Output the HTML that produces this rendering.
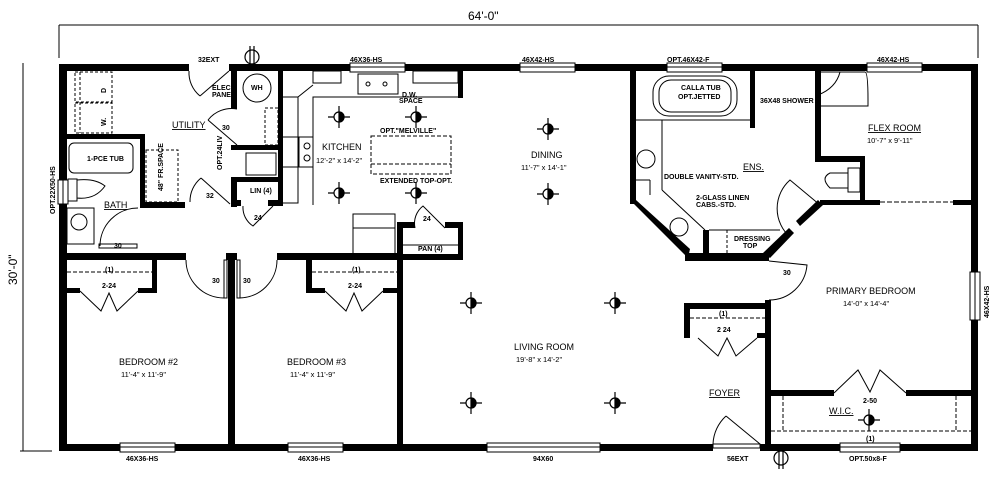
<!DOCTYPE html>
<html><head><meta charset="utf-8"><style>
html,body{margin:0;padding:0;background:#fff;}
svg{display:block;}
text{font-family:"Liberation Sans",sans-serif;fill:#000;}
.s{font-size:7px;font-family:"Liberation Sans Narrow","Liberation Sans",sans-serif;font-weight:bold;}
.l{font-size:9px;}
.d{font-size:7.5px;}
</style></head><body>
<svg width="1001" height="478" viewBox="0 0 1001 478" xmlns="http://www.w3.org/2000/svg">
<defs>
<g id="f" stroke="#000" stroke-width="1.2" fill="none"><line x1="-11" y1="0" x2="11" y2="0"/><line x1="0" y1="-11" x2="0" y2="11"/><circle r="5" fill="#fff"/><path d="M0,-5 A5,5 0 0 1 0,5 Z" fill="#000"/></g>
<g id="g" stroke="#000" stroke-width="1.2" fill="none"><circle r="7" fill="#fff"/><line x1="-2" y1="-11" x2="-2" y2="11"/><line x1="2" y1="-11" x2="2" y2="11"/></g>
</defs>
<rect width="1001" height="478" fill="#fff"/>
<g stroke="#000" stroke-width="1" fill="none">
<line x1="59" y1="25" x2="978" y2="25"/><line x1="59" y1="25" x2="59" y2="58"/><line x1="978" y1="25" x2="978" y2="58"/>
<line x1="23" y1="63" x2="23" y2="451"/><line x1="20" y1="451" x2="52" y2="451"/>
</g>
<text x="468" y="20" style="font-size:12px">64'-0"</text>
<text transform="translate(17,285) rotate(-90)" style="font-size:12px">30'-0"</text>

<g fill="#000">
<rect x="59" y="64" width="130" height="7"/><rect x="229" y="64" width="749" height="7"/>
<rect x="59" y="64" width="8" height="387"/>
<rect x="971" y="64" width="7" height="387"/>
<rect x="59" y="444" width="654" height="7"/><rect x="760" y="444" width="218" height="7"/>
<rect x="231" y="64" width="6" height="45"/>
<rect x="278" y="64" width="5" height="141"/>
<rect x="231" y="145" width="52" height="5"/>
<rect x="231" y="177" width="6" height="30"/>
<rect x="231" y="177" width="50" height="5"/>
<rect x="231" y="200" width="10" height="6"/><rect x="268" y="200" width="15" height="6"/>
<rect x="67" y="134" width="78" height="5"/>
<rect x="140" y="134" width="5" height="74"/>
<rect x="140" y="202" width="45" height="6"/>
<rect x="59" y="253" width="127" height="7"/><rect x="226" y="253" width="11" height="7"/><rect x="277" y="253" width="125" height="7"/>
<rect x="228" y="253" width="7" height="191"/>
<rect x="397" y="222" width="6" height="222"/>
<rect x="152" y="260" width="5" height="33"/><rect x="67" y="288" width="13" height="5"/><rect x="138" y="288" width="19" height="5"/>
<rect x="306" y="260" width="6" height="33"/><rect x="306" y="288" width="19" height="5"/><rect x="383" y="288" width="14" height="5"/>
<rect x="397" y="222" width="18" height="6"/><rect x="445" y="222" width="18" height="6"/><rect x="458" y="222" width="5" height="38"/>
<rect x="397" y="254" width="66" height="6"/>
<rect x="458" y="64" width="5" height="34"/>
<rect x="280" y="71" width="3" height="134"/>
<rect x="630" y="64" width="6" height="140"/>
<polygon points="630,200 636,200 690,249 688,258"/>
<rect x="685" y="253" width="84" height="8"/>
<polygon points="763,253 789,228 794,233 770,258"/>
<rect x="703" y="230" width="6" height="24"/>
<rect x="750" y="64" width="5" height="64"/>
<rect x="815" y="64" width="6" height="97"/>
<rect x="815" y="156" width="50" height="6"/>
<rect x="860" y="156" width="5" height="49"/>
<rect x="820" y="200" width="60" height="5"/><rect x="953" y="200" width="25" height="5"/>
<polygon points="818,200 823,205 800,226 796,221"/>
<rect x="765" y="300" width="6" height="151"/>
<rect x="684" y="303" width="85" height="6"/><rect x="684" y="303" width="6" height="35"/><rect x="757" y="333" width="12" height="5"/>
<rect x="768" y="390" width="66" height="6"/><rect x="906" y="390" width="72" height="6"/>
</g>

<g fill="#fff" stroke="#000" stroke-width="1">
<rect x="350" y="63" width="55" height="9"/><rect x="520" y="63" width="55" height="9"/><rect x="667" y="63" width="55" height="9"/><rect x="867" y="63" width="55" height="9"/>
<rect x="120" y="443" width="55" height="9"/><rect x="288" y="443" width="55" height="9"/><rect x="487" y="443" width="113" height="9"/><rect x="840" y="443" width="60" height="9"/>
<rect x="58" y="180" width="10" height="24"/><rect x="970" y="272" width="10" height="48"/>
</g>
<g stroke="#000" stroke-width="1">
<line x1="350" y1="67" x2="405" y2="67"/><line x1="520" y1="67" x2="575" y2="67"/><line x1="667" y1="67" x2="722" y2="67"/><line x1="867" y1="67" x2="922" y2="67"/>
<line x1="120" y1="447" x2="175" y2="447"/><line x1="288" y1="447" x2="343" y2="447"/><line x1="487" y1="447" x2="600" y2="447"/><line x1="840" y1="447" x2="900" y2="447"/>
<line x1="975" y1="272" x2="975" y2="320"/><line x1="63" y1="180" x2="63" y2="204"/>
</g>

<g fill="none" stroke="#000" stroke-width="1">
<line x1="200" y1="96" x2="229" y2="71"/><path d="M189,71 A30,30 0 0 0 200,96"/>
<line x1="208" y1="120" x2="237" y2="145"/><path d="M208,120 A30,30 0 0 1 237,109"/>
<line x1="201" y1="178" x2="230" y2="204"/><path d="M190,202 A30,30 0 0 1 201,178"/>
<path d="M243,206 A22,22 0 0 0 253,226 L273,206"/>
<path d="M100,246 A38,38 0 0 1 138,208"/><rect x="99" y="244" width="38" height="4"/>
<path d="M186,260 A38,38 0 0 0 224,298"/><rect x="224" y="260" width="3" height="38"/>
<path d="M277,260 A38,38 0 0 1 239,298"/><rect x="237" y="260" width="3" height="38"/>
<path d="M415,228 A22,22 0 0 1 423,206 L445,228"/>
<line x1="67" y1="272" x2="152" y2="272" stroke-dasharray="4,2"/>
<path d="M80,291 L101,311 L109,293 L117,311 L138,291"/>
<line x1="312" y1="272" x2="397" y2="272" stroke-dasharray="4,2"/>
<path d="M325,291 L346,311 L354,293 L362,311 L383,291"/>
<line x1="690" y1="318" x2="765" y2="318" stroke-dasharray="4,2"/>
<path d="M698,338 L718,356 L727,338 L736,356 L757,338"/>
<path d="M834,393 L858,370 L870,392 L880,370 L906,393"/>
<line x1="771" y1="431" x2="971" y2="431" stroke-dasharray="4,2"/>
<line x1="783" y1="396" x2="783" y2="431" stroke-dasharray="4,2"/><line x1="956" y1="396" x2="956" y2="431" stroke-dasharray="4,2"/>
<line x1="726" y1="416" x2="760" y2="444"/><path d="M713,444 A40,40 0 0 1 726,416"/>
<rect x="713" y="444" width="47" height="4" fill="#fff"/>
<path d="M769,261 L807,265 A38,38 0 0 1 769,300"/>
<path d="M790,237 A38,38 0 0 1 790,180 L820,205"/>
<line x1="880" y1="202" x2="953" y2="202" stroke-dasharray="5,2"/>
<path d="M821,72 L865,72 Q868,72 868,100 L868,106 L821,106"/><path d="M840,72 Q836,88 818,95"/>
<line x1="636" y1="120" x2="750" y2="120"/>
<rect x="653" y="76" width="84" height="40" rx="16"/><rect x="659" y="80" width="72" height="32" rx="12"/>
<line x1="662" y1="120" x2="662" y2="190"/>
<circle cx="646" cy="159" r="9"/>
<circle cx="679" cy="227" r="9"/>
<line x1="636" y1="180" x2="650" y2="180"/><line x1="650" y1="180" x2="650" y2="195"/>
<line x1="662" y1="190" x2="705" y2="230"/>
<line x1="709" y1="230" x2="780" y2="230"/>
<line x1="727" y1="230" x2="727" y2="253" stroke-dasharray="3,2"/>
<path d="M848,173 L830,173 Q820,178 830,188 L848,188 Z"/><rect x="848" y="168" width="12" height="24"/>
<rect x="75" y="72" width="37" height="30" stroke-dasharray="3,2"/><rect x="75" y="103" width="37" height="30" stroke-dasharray="3,2"/>
<line x1="80" y1="72" x2="80" y2="133" stroke-dasharray="3,2"/>
<rect x="146" y="150" width="32" height="52" stroke-dasharray="3,2"/>
<rect x="69" y="143" width="64" height="30" rx="5"/>
<path d="M77,180 Q95,178 105,186 Q95,200 77,198 Z"/><rect x="68" y="179" width="9" height="22"/>
<rect x="67" y="208" width="27" height="36"/><circle cx="79" cy="222" r="8"/>
<circle cx="257" cy="88" r="14"/>
<rect x="265" y="108" width="13" height="37" stroke-dasharray="3,2"/>
<rect x="246" y="153" width="30" height="22"/>
<polyline points="283,97 298,97 298,203 283,203"/>
<line x1="283" y1="137" x2="298" y2="137"/><line x1="283" y1="167" x2="298" y2="167"/>
<polyline points="313,205 313,97 458,97"/>
<line x1="298" y1="97" x2="313" y2="85"/>
<rect x="313" y="71" width="28" height="12"/><rect x="413" y="71" width="45" height="12"/>
<rect x="358" y="74" width="40" height="20"/><circle cx="368" cy="84" r="2"/><circle cx="385" cy="84" r="2"/>
<rect x="299" y="137" width="14" height="30"/><circle cx="307" cy="146" r="3"/><circle cx="307" cy="158" r="3"/>
<rect x="371" y="136" width="80" height="38" stroke-dasharray="4,2"/>
<line x1="371" y1="164" x2="451" y2="164" stroke-dasharray="4,2"/>
<rect x="353" y="214" width="42" height="40"/><line x1="353" y1="228" x2="395" y2="228"/>
<line x1="400" y1="245" x2="458" y2="245"/>
</g>

<use href="#f" x="339" y="117"/><use href="#f" x="416" y="117"/><use href="#f" x="339" y="193"/><use href="#f" x="416" y="193"/>
<use href="#f" x="548" y="129"/><use href="#f" x="548" y="194"/>
<use href="#f" x="471" y="303"/><use href="#f" x="615" y="303"/><use href="#f" x="471" y="403"/><use href="#f" x="615" y="403"/>
<use href="#f" x="869" y="420"/>
<use href="#g" x="252" y="57"/><use href="#g" x="781" y="458"/>

<text class="l" x="172" y="128" text-decoration="underline">UTILITY</text>
<text class="l" x="322" y="150">KITCHEN</text><text class="d" x="316" y="163">12'-2" x 14'-2"</text>
<text class="l" x="531" y="158">DINING</text><text class="d" x="521" y="170">11'-7" x 14'-1"</text>
<text class="l" x="868" y="131" text-decoration="underline">FLEX ROOM</text><text class="d" x="867" y="143">10'-7" x 9'-11"</text>
<text class="l" x="743" y="170" text-decoration="underline">ENS.</text>
<text class="l" x="104" y="208" text-decoration="underline">BATH</text>
<text class="l" x="119" y="365">BEDROOM #2</text><text class="d" x="121" y="377">11'-4" x 11'-9"</text>
<text class="l" x="287" y="365">BEDROOM #3</text><text class="d" x="290" y="377">11'-4" x 11'-9"</text>
<text class="l" x="514" y="350">LIVING ROOM</text><text class="d" x="516" y="362">19'-8" x 14'-2"</text>
<text class="l" x="826" y="294">PRIMARY BEDROOM</text><text class="d" x="843" y="306">14'-0" x 14'-4"</text>
<text class="l" x="709" y="396" text-decoration="underline">FOYER</text>
<text class="l" x="829" y="414" text-decoration="underline">W.I.C.</text>

<g class="s">
<text class="s" x="198" y="62">32EXT</text>
<text class="s" x="212" y="90">ELEC.</text><text class="s" x="212" y="97">PANEL</text>
<text class="s" x="251" y="90">WH</text>
<text class="s" x="350" y="62">46X36-HS</text>
<text class="s" x="522" y="62">46X42-HS</text>
<text class="s" x="667" y="62">OPT.46X42-F</text>
<text class="s" x="877" y="62">46X42-HS</text>
<text class="s" x="402" y="97">D.W.</text><text class="s" x="399" y="103">SPACE</text>
<text class="s" x="380" y="133">OPT."MELVILLE"</text>
<text class="s" x="380" y="183">EXTENDED TOP-OPT.</text>
<text class="s" x="222" y="130">30</text>
<text class="s" x="206" y="198">32</text>
<text class="s" x="254" y="220">24</text>
<text class="s" x="423" y="221">24</text>
<text class="s" x="250" y="193">LIN (4)</text>
<text class="s" x="418" y="251">PAN (4)</text>
<text class="s" x="87" y="161">1-PCE TUB</text>
<text class="s" x="114" y="248">30</text>
<text class="s" x="212" y="283">30</text><text class="s" x="243" y="283">30</text>
<text class="s" x="105" y="272">(1)</text><text class="s" x="102" y="288">2-24</text>
<text class="s" x="352" y="272">(1)</text><text class="s" x="348" y="288">2-24</text>
<text class="s" x="719" y="316">(1)</text><text class="s" x="717" y="332">2 24</text>
<text class="s" x="863" y="403">2-50</text>
<text class="s" x="866" y="441">(1)</text>
<text class="s" x="681" y="90">CALLA TUB</text><text class="s" x="678" y="99">OPT.JETTED</text>
<text class="s" x="760" y="103">36X48 SHOWER</text>
<text class="s" x="664" y="179">DOUBLE VANITY-STD.</text>
<text class="s" x="696" y="200">2-GLASS LINEN</text><text class="s" x="696" y="207">CABS.-STD.</text>
<text class="s" x="734" y="241">DRESSING</text><text class="s" x="743" y="248">TOP</text>
<text class="s" x="783" y="275">30</text>
<text class="s" x="126" y="461">46X36-HS</text>
<text class="s" x="298" y="461">46X36-HS</text>
<text class="s" x="533" y="461">94X60</text>
<text class="s" x="727" y="461">56EXT</text>
<text class="s" x="849" y="461">OPT.50x8-F</text>
<text class="s" transform="translate(55,214) rotate(-90)">OPT.22X50-HS</text>
<text class="s" transform="translate(989,318) rotate(-90)">46X42-HS</text>
<text class="s" transform="translate(222,170) rotate(-90)">OPT.24LIV</text>
<text class="s" transform="translate(163,191) rotate(-90)">48" FR.SPACE</text>
<text class="s" transform="translate(106,126) rotate(-90)">W.</text>
<text class="s" transform="translate(106,93) rotate(-90)">D</text>
</g>
</svg>
</body></html>
